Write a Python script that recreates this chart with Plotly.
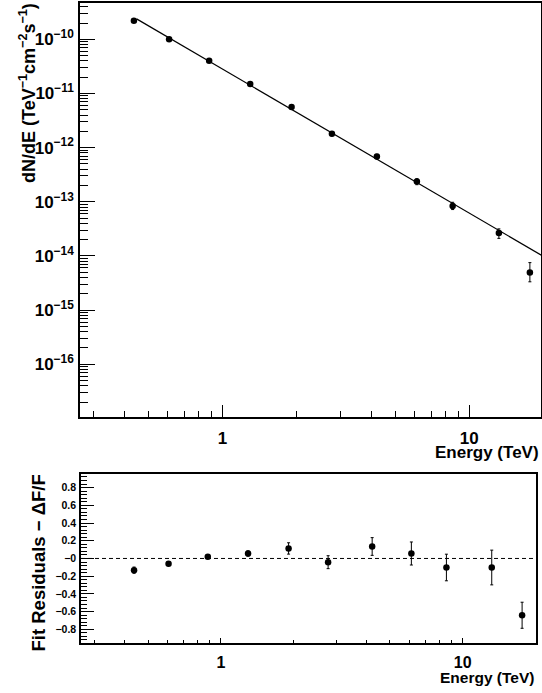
import numpy as np
import plotly.graph_objects as go

# ---------------- data ----------------
energy = [0.437, 0.607, 0.882, 1.294, 1.904, 2.774, 4.22, 6.13, 8.56, 13.18, 17.6]
flux = [2.21e-10, 1.00e-10, 4.02e-11, 1.49e-11, 5.61e-12, 1.80e-12,
        6.87e-13, 2.37e-13, 8.39e-14, 2.66e-14, 4.93e-15]
flux_err_up = [8e-12, 2.5e-12, 9e-13, 4.5e-13, 3.5e-13, 1.4e-13,
               6.5e-14, 3.0e-14, 1.4e-14, 5.0e-15, 2.6e-15]
flux_err_dn = [8e-12, 2.5e-12, 9e-13, 4.5e-13, 3.5e-13, 1.4e-13,
               6.5e-14, 3.0e-14, 1.2e-14, 5.5e-15, 1.6e-15]

residual = [-0.132, -0.061, 0.018, 0.056, 0.113, -0.042, 0.135, 0.056, -0.102, -0.102, -0.641]
residual_err = [0.035, 0.02, 0.02, 0.03, 0.064, 0.073, 0.10, 0.13, 0.15, 0.196, 0.147]

# power-law fit parameters
fit_norm = 2.82e-11      # at 1 TeV
fit_index = 2.659
fit_emin = 0.448
fit_emax = 25.0

y_decades = [-16, -15, -14, -13, -12, -11, -10]
y_ticktext = ["10<sup>\u2212%d</sup>" % (-d) for d in y_decades]
x_tickvals = [1, 10]
x_ticktext = ["1", "10"]
res_tickvals = [-0.8, -0.6, -0.4, -0.2, 0.0, 0.2, 0.4, 0.6, 0.8]
res_ticktext = ["\u22120.8", "\u22120.6", "\u22120.4", "\u22120.2", "\u22120", "0.2", "0.4", "0.6", "0.8"]

FONT = "Liberation Sans, Arial, Helvetica, sans-serif"
W, H = 542, 693

# minor tick values (axis decoration)
x_minor = [k * 10.0 ** n for n in (-1, 0, 1) for k in range(2, 10)]
y_minor = [k * 10.0 ** n for n in range(-17, -9) for k in range(2, 10)]

fit_x = [fit_emin, fit_emax]
fit_y = [fit_norm * e ** (-fit_index) for e in fit_x]

fig = go.Figure()

fig.add_trace(go.Scatter(
    x=fit_x, y=fit_y, mode="lines",
    line=dict(color="black", width=1.2),
    xaxis="x", yaxis="y", showlegend=False, hoverinfo="skip"))

fig.add_trace(go.Scatter(
    x=energy, y=flux, mode="markers",
    marker=dict(color="black", size=6.5),
    error_y=dict(type="data", symmetric=False, array=flux_err_up, arrayminus=flux_err_dn,
                 color="black", thickness=1, width=1.5),
    xaxis="x", yaxis="y", showlegend=False, cliponaxis=False))

fig.add_trace(go.Scatter(
    x=energy, y=residual, mode="markers",
    marker=dict(color="black", size=6.5),
    error_y=dict(type="data", array=residual_err, color="black", thickness=1, width=1.5),
    xaxis="x2", yaxis="y2", showlegend=False))

axis_common = dict(showline=True, linecolor="black", linewidth=1.5, mirror=True,
                   ticks="inside", tickcolor="black", tickwidth=1, showgrid=False,
                   zeroline=False,
                   tickfont=dict(family=FONT, size=17, color="black", weight="bold"))

top_dom_x = [80 / W, 541 / W]
top_dom_y = [1 - 417 / H, 1 - 3 / H]
bot_dom_x = [81 / W, 536 / W]
bot_dom_y = [1 - 643 / H, 1 - 474 / H]

fig.update_layout(
    width=W, height=H,
    margin=dict(l=0, r=0, t=0, b=0),
    paper_bgcolor="white", plot_bgcolor="white",
    xaxis=dict(axis_common, type="log", domain=top_dom_x, range=[-0.578, 1.2906],
               anchor="y", tickmode="array", tickvals=x_tickvals, ticktext=x_ticktext,
               ticklen=12, ticklabelstandoff=5,
               minor=dict(tickmode="array", tickvals=x_minor, ticks="inside", ticklen=6,
                          tickcolor="black", tickwidth=1, showgrid=False)),
    yaxis=dict(axis_common, type="log", domain=top_dom_y, range=[-16.974, -9.329],
               anchor="x", tickmode="array", tickvals=[10.0 ** d for d in y_decades],
               ticktext=y_ticktext, ticklen=15, ticklabelstandoff=1,
               minor=dict(tickmode="array", tickvals=y_minor, ticks="inside", ticklen=8,
                          tickcolor="black", tickwidth=1, showgrid=False)),
    xaxis2=dict(axis_common, type="log", domain=bot_dom_x, range=[-0.579, 1.303],
                anchor="y2", tickmode="array", tickvals=x_tickvals, ticktext=x_ticktext,
                ticklen=5, ticklabelstandoff=4,
                tickfont=dict(family=FONT, size=16, color="black", weight="bold"),
                minor=dict(tickmode="array", tickvals=x_minor, ticks="inside", ticklen=3,
                           tickcolor="black", tickwidth=1, showgrid=False)),
    yaxis2=dict(axis_common, domain=bot_dom_y, range=[-0.954, 0.953],
                anchor="x2", tickmode="array", tickvals=res_tickvals, ticktext=res_ticktext,
                ticklen=13, ticklabelstandoff=1,
                tickfont=dict(family=FONT, size=10.5, color="black", weight="bold"),
                minor=dict(dtick=0.04, tick0=0, ticks="inside", ticklen=6,
                           tickcolor="black", tickwidth=1, showgrid=False)),
    shapes=[dict(type="line", xref="x2 domain", yref="y2", x0=0, x1=1, y0=0, y1=0,
                 line=dict(color="black", width=1, dash="4px,3px"), layer="below")],
    annotations=[
        dict(text="<b>Energy (TeV)</b>", xref="paper", yref="paper",
             x=541 / W, y=1 - 453 / H, xanchor="right", yanchor="middle", showarrow=False,
             font=dict(family=FONT, size=17, color="black")),
        dict(text="<b>Energy (TeV)</b>", xref="paper", yref="paper",
             x=536 / W, y=1 - 677 / H, xanchor="right", yanchor="middle", showarrow=False,
             font=dict(family=FONT, size=15.5, color="black")),
        dict(text="<b>dN/dE (TeV<sup>\u22121</sup>cm<sup>\u22122</sup>s<sup>\u22121</sup>)</b>",
             xref="paper", yref="paper", x=27 / W, y=1 - 1 / H, xanchor="center", yanchor="top",
             textangle=-90, showarrow=False, font=dict(family=FONT, size=18, color="black")),
        dict(text="<b>Fit Residuals \u2212 \u0394F/F</b>",
             xref="paper", yref="paper", x=38 / W, y=1 - 473 / H, xanchor="center", yanchor="top",
             textangle=-90, showarrow=False, font=dict(family=FONT, size=18.5, color="black")),
    ],
)

fig.write_html("out.html", config={"displayModeBar": False},
               post_script="document.body.style.margin='0';document.body.style.overflow='hidden';")
